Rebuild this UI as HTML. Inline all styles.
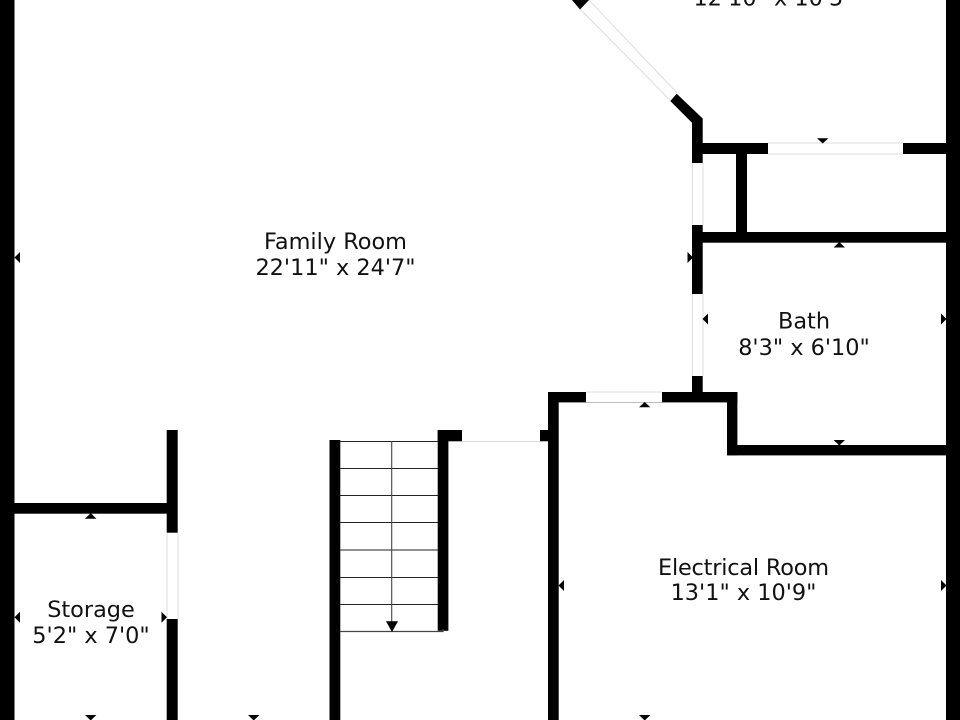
<!DOCTYPE html>
<html>
<head>
<meta charset="utf-8">
<style>
html,body{margin:0;padding:0;background:#fff}
svg{display:block}
text{font-family:"DejaVu Sans",sans-serif;font-size:22.4px;fill:#111;text-anchor:middle}
</style>
</head>
<body>
<svg width="960" height="720" viewBox="0 0 960 720" xmlns="http://www.w3.org/2000/svg">
<rect width="960" height="720" fill="#fff"/>

<!-- window / door edge lines -->
<g stroke="#ddd" stroke-width="1" fill="none">
<path d="M768 143H903M768 154H903"/>
<path d="M692.5 163V225M703 163V225"/>
<path d="M692.5 294V376M703 294V376"/>
<path d="M586 392H662"/>
<path d="M586 402.5H662" stroke="#bbb"/>
<path d="M462 441.5H540"/>
<path d="M167 533V619M178 533V619"/>
<path d="M580 9L670 100M589 0L677 93"/>
</g>

<!-- walls -->
<g fill="#000">
<rect x="0" y="0" width="14.5" height="720"/>
<rect x="946" y="0" width="14" height="720"/>
<polygon points="676.7,93.7 702.7,118.5 702.7,163 692,163 692,122.7 670.3,101"/>
<polygon points="572,0 589,0 580,9.5"/>
<rect x="692" y="143" width="76" height="11"/>
<rect x="903" y="143" width="43" height="11"/>
<rect x="736" y="154" width="11" height="78"/>
<rect x="692" y="232" width="254" height="10.7"/>
<rect x="692" y="225" width="10.7" height="69"/>
<rect x="692" y="376" width="10.7" height="17"/>
<rect x="548" y="392" width="38" height="10.4"/>
<rect x="662" y="392" width="75.4" height="10.4"/>
<rect x="727" y="392" width="10.4" height="63.3"/>
<rect x="727" y="445" width="219" height="10.4"/>
<rect x="548" y="392" width="10.7" height="328"/>
<rect x="540" y="430" width="8" height="11.3"/>
<rect x="437.7" y="430" width="24.3" height="11.3"/>
<rect x="437.7" y="430" width="10.7" height="200.8"/>
<rect x="329.5" y="440" width="10.8" height="280"/>
<rect x="14" y="503" width="158" height="10.7"/>
<rect x="166.7" y="430" width="11" height="102.7"/>
<rect x="166.7" y="619" width="11" height="101"/>
</g>

<!-- stairs -->
<g stroke="#222" stroke-width="1.1" fill="none">
<path d="M340 441.5H438M340 468.5H438M340 495.5H438M340 522.5H438M340 550H438M340 577.5H438M340 604.5H438"/>
<path d="M340 631.5H443V629" stroke="#444" stroke-width="1.3"/>
<path d="M391.7 441V622" stroke="#444"/>
</g>
<polygon points="386,621.3 398,621.3 392,632" fill="#000"/>

<!-- dimension ticks -->
<g fill="#000">
<polygon points="14.5,257.5 20,252 20,263"/>
<polygon points="693,257.5 687.5,252 687.5,263"/>
<polygon points="14.5,617.3 20,611.8 20,622.8"/>
<polygon points="167,617.3 161.5,611.8 161.5,622.8"/>
<polygon points="90.7,513 85,518.7 96.4,518.7"/>
<polygon points="90.7,720.5 85,715 96.4,715"/>
<polygon points="253.7,720.5 248,715 259.4,715"/>
<polygon points="822.7,143.5 817,138.2 828.4,138.2"/>
<polygon points="839.3,242 833.6,247.5 845,247.5"/>
<polygon points="702.5,319 708,313.5 708,324.5"/>
<polygon points="946.5,319 941,313.5 941,324.5"/>
<polygon points="839.3,445.5 833.6,440 845,440"/>
<polygon points="644.7,402 639,407.2 650.4,407.2"/>
<polygon points="558.5,585.5 564,580 564,591"/>
<polygon points="946.5,585.5 941,580 941,591"/>
<polygon points="644.7,720.5 639,715 650.4,715"/>
</g>

<!-- labels -->
<text x="773.5" y="5.5">12'10" x 10'5"</text>
<text x="335.5" y="249">Family Room</text>
<text x="335.5" y="275">22'11" x 24'7"</text>
<text x="804" y="328.5">Bath</text>
<text x="804" y="355">8'3" x 6'10"</text>
<text x="743.5" y="575" textLength="171" lengthAdjust="spacing">Electrical Room</text>
<text x="743.5" y="600">13'1" x 10'9"</text>
<text x="91" y="617">Storage</text>
<text x="91" y="643">5'2" x 7'0"</text>
</svg>
</body>
</html>
